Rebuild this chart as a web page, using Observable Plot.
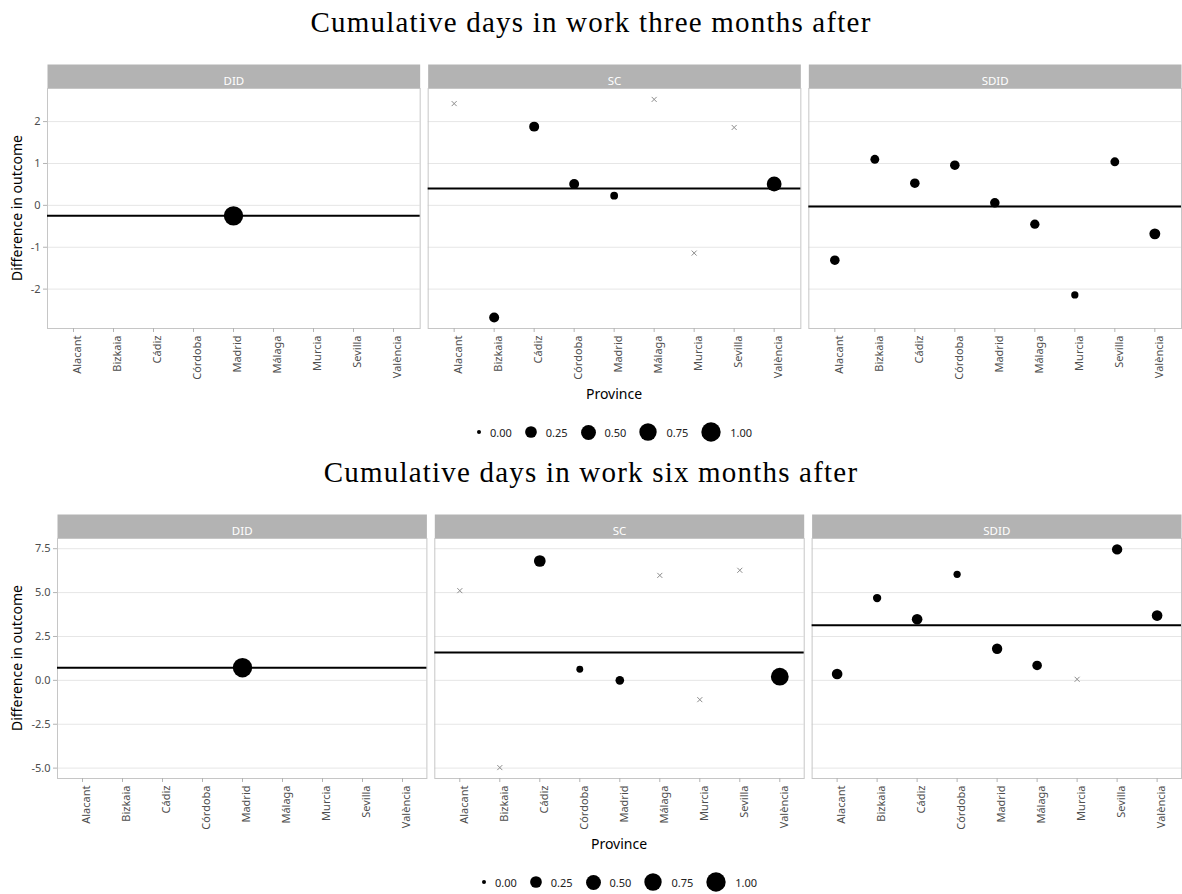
<!DOCTYPE html>
<html>
<head>
<meta charset="utf-8">
<script src="https://cdn.jsdelivr.net/npm/d3@7"></script>
<script src="https://cdn.jsdelivr.net/npm/@observablehq/plot@0.6"></script>
<style>
  body { margin: 0; background: #fff; font-family: "Noto Sans", sans-serif; }
  #root { position: relative; width: 1182px; height: 894px; overflow: hidden; }
  .abs { position: absolute; }
  .title { left: 0; width: 1182px; text-align: center; font-family: "Liberation Serif", serif; font-size: 29px; letter-spacing: 1.2px; line-height: 32px; color: #000; }
  .xlab { font-size: 14px; line-height: 18px; color: #000; transform: translate(-50%, -50%); white-space: nowrap; }
  .ylab { font-size: 14px; line-height: 18px; color: #000; transform: translate(-50%, -50%) rotate(-90deg); white-space: nowrap; }
  .legend { display: flex; justify-content: center; align-items: center; font-size: 11px; color: #222; height: 22px; }
  .legend svg { display: block; }
  .legend span { margin-left: 8px; margin-right: 12px; }
</style>
</head>
<body>
<div id="root"></div>
<script>
// ---------- data ----------
const provinces = ["Alacant", "Bizkaia", "Cádiz", "Córdoba", "Madrid", "Málaga", "Murcia", "Sevilla", "València"];
const methods = ["DID", "SC", "SDID"];

// Three months after
const did3Provinces = ["Madrid"];
const did3Diff = [-0.25];
const did3Weight = [1];
const sc3Diff = [2.43, -2.68, 1.88, 0.51, 0.23, 2.53, -1.14, 1.86, 0.51];
const sc3Weight = [0, 0.15, 0.15, 0.15, 0.06, 0, 0, 0, 0.49];
const sdid3Diff = [-1.31, 1.10, 0.53, 0.96, 0.06, -0.45, -2.14, 1.04, -0.68];
const sdid3Weight = [0.13, 0.10, 0.13, 0.13, 0.13, 0.12, 0.045, 0.10, 0.20];
const avg3 = [-0.25, 0.40, -0.03];

// Six months after
const did6Provinces = ["Madrid"];
const did6Diff = [0.72];
const did6Weight = [1];
const sc6Diff = [5.11, -4.97, 6.80, 0.63, 0.00, 5.98, -1.10, 6.27, 0.21];
const sc6Weight = [0, 0, 0.25, 0.035, 0.09, 0, 0, 0, 0.80];
const sdid6Diff = [0.36, 4.69, 3.48, 6.04, 1.80, 0.85, 0.06, 7.46, 3.69];
const sdid6Weight = [0.185, 0.077, 0.185, 0.044, 0.17, 0.133, 0, 0.17, 0.185];
const avg6 = [0.72, 1.59, 3.14];

const yTicks3 = [-2, -1, 0, 1, 2];
const yTicks6 = [-5, -2.5, 0, 2.5, 5, 7.5];
const legendValues = [0, 0.25, 0.5, 0.75, 1];

const title3 = "Cumulative days in work three months after";
const title6 = "Cumulative days in work six months after";
const xTitle = "Province";
const yTitle = "Difference in outcome";

// ---------- helpers ----------
function rows(method, provs, diffs, weights) {
  return provs.map((p, i) => ({method, province: p, diff: diffs[i], weight: weights[i]}));
}

const root = document.getElementById("root");
function addDiv(cls, text, style) {
  const d = document.createElement("div");
  d.className = "abs " + cls;
  if (text != null) d.textContent = text;
  Object.assign(d.style, style);
  root.appendChild(d);
  return d;
}

function panelPlot(data, avg, ticks, fmt, marginLeft) {
  const avgRows = methods.map((m, i) => ({method: m, value: avg[i]}));
  const vals = data.map(d => d.diff).concat(avg);
  const [lo, hi] = d3.extent(vals);
  const pad = (hi - lo) * 0.05;
  const height = 362, marginTop = 44, marginBottom = 78;
  const inner = height - marginTop - marginBottom;
  return Plot.plot({
    width: 1182, height, marginTop, marginBottom, marginLeft, marginRight: 1,
    style: {fontFamily: "Noto Sans", background: "transparent", overflow: "visible"},
    fx: {domain: methods, paddingInner: 0.021, paddingOuter: 0, round: false, axis: null},
    x: {domain: provinces, type: "point", padding: 0.6, axis: null},
    y: {domain: [lo - pad, hi + pad], axis: null},
    r: {type: "sqrt", domain: [0, 1], range: [2, 9.7]},
    marks: [
      Plot.frame({fill: "#b3b3b3", stroke: "none", insetTop: -24, insetBottom: inner}),
      Plot.gridY(ticks, {stroke: "#e6e6e6", strokeOpacity: 1}),
      Plot.frame({stroke: "#c6c6c6"}),
      Plot.text(methods, {fx: d => d, text: d => d, frameAnchor: "top", dy: -12, fill: "white", fontSize: 11.5}),
      Plot.ruleY(avgRows, {fx: "method", y: "value", stroke: "black", strokeWidth: 2}),
      Plot.dot(data.filter(d => d.weight === 0), {fx: "method", x: "province", y: "diff", symbol: "times", r: 2.4, stroke: "#8c8c8c", strokeWidth: 1}),
      Plot.dot(data.filter(d => d.weight > 0), {fx: "method", x: "province", y: "diff", r: "weight", fill: "black", stroke: "none"}),
      Plot.axisX({tickRotate: -90, lineAnchor: "top", tickSize: 4, tickPadding: 3, fontSize: 11, stroke: "#b3b3b3", fill: "#4d4d4d", label: null}),
      Plot.axisY(ticks, {tickSize: 4, tickPadding: 3, tickFormat: fmt, fontSize: 11, stroke: "#b3b3b3", fill: "#4d4d4d", label: null})
    ]
  });
}

function legend(rScale, top, left, width) {
  const div = addDiv("legend", null, {top: top + "px", left: left + "px", width: width + "px"});
  legendValues.forEach(v => {
    const r = rScale.apply(v);
    const s = Math.ceil(2 * r + 2);
    const svg = d3.create("svg").attr("width", s).attr("height", s);
    svg.append("circle").attr("cx", s / 2).attr("cy", s / 2).attr("r", r).attr("fill", "black");
    div.appendChild(svg.node());
    const sp = document.createElement("span");
    sp.textContent = d3.format(".2f")(v);
    div.appendChild(sp);
  });
}

function section(top, title, data, avg, ticks, fmt, marginLeft) {
  addDiv("title", title, {top: (top + 6) + "px"});
  const plot = panelPlot(data, avg, ticks, fmt, marginLeft);
  const holder = addDiv("", null, {top: (top + 44) + "px", left: "0px"});
  holder.appendChild(plot);
  const frameTop = top + 88, frameBottom = top + 328;
  addDiv("xlab", xTitle, {top: (top + 394) + "px", left: ((marginLeft + 1181) / 2) + "px"});
  addDiv("ylab", yTitle, {top: ((frameTop + frameBottom) / 2) + "px", left: "17px"});
  legend(plot.scale("r"), top + 421, marginLeft + 6, 1181 - marginLeft);
}

const data3 = [
  ...rows("DID", did3Provinces, did3Diff, did3Weight),
  ...rows("SC", provinces, sc3Diff, sc3Weight),
  ...rows("SDID", provinces, sdid3Diff, sdid3Weight)
];
const data6 = [
  ...rows("DID", did6Provinces, did6Diff, did6Weight),
  ...rows("SC", provinces, sc6Diff, sc6Weight),
  ...rows("SDID", provinces, sdid6Diff, sdid6Weight)
];

section(0, title3, data3, avg3, yTicks3, d => String(d), 47);
section(450, title6, data6, avg6, yTicks6, d => d.toFixed(1), 57);
</script>
</body>
</html>
